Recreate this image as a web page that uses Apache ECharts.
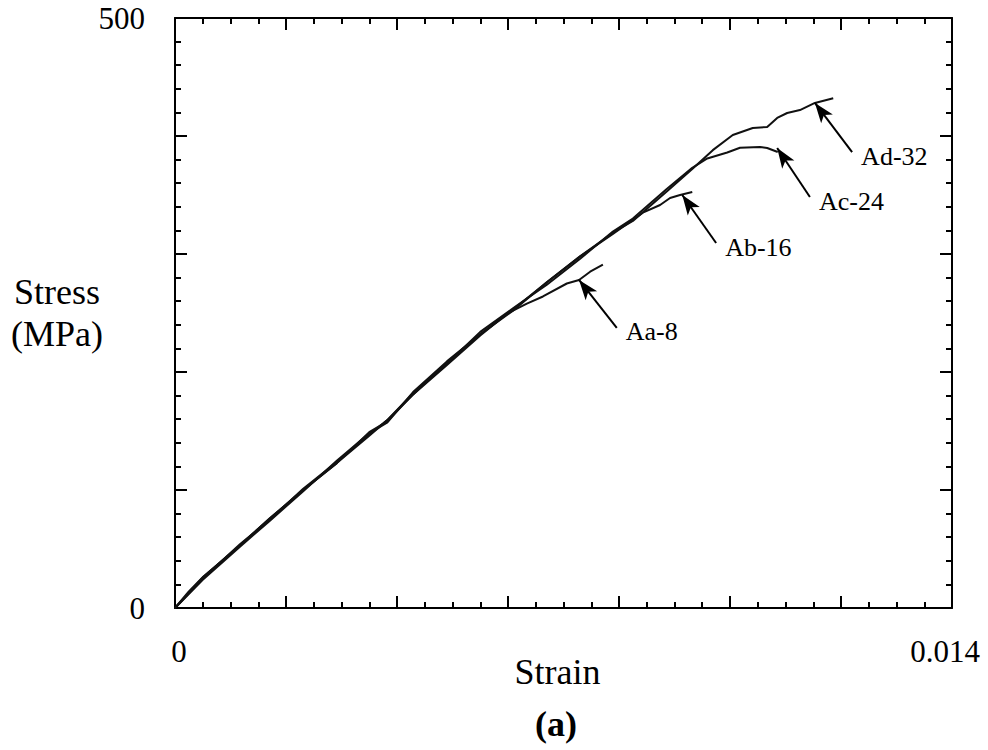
<!DOCTYPE html>
<html>
<head>
<meta charset="utf-8">
<script src="https://cdn.jsdelivr.net/npm/echarts@6/dist/echarts.min.js"></script>
<style>
html,body{margin:0;padding:0;background:#fff;}
#chart{width:988px;height:750px;}
</style>
</head>
<body>
<div id="chart"></div>
<script>
// Strain (raw) and stress (MPa)
const aaStrain = [0, 0.00025, 0.0005, 0.00117, 0.00171, 0.00231, 0.00292, 0.0035, 0.00382, 0.00429, 0.0049, 0.0055, 0.006, 0.00634, 0.00663, 0.00706, 0.00728, 0.00748, 0.00771];
const aaStress = [0, 14, 26, 53, 76, 100, 123, 146, 159, 181, 206, 231, 250, 258, 264, 275, 278, 285, 291];

const abStrain = [0, 0.0005, 0.00117, 0.00171, 0.00231, 0.00292, 0.0035, 0.00382, 0.00429, 0.0049, 0.0055, 0.00609, 0.0067, 0.0073, 0.00789, 0.00843, 0.00874, 0.00892, 0.0091, 0.00932];
const abStress = [0, 24, 52, 74, 99, 125, 148, 157, 183, 209, 232, 252, 276, 298, 317, 335, 341.5, 347.5, 350, 352.5];

const acStrain = [0, 0.0005, 0.00117, 0.00171, 0.00231, 0.00292, 0.0035, 0.00382, 0.00429, 0.0049, 0.0055, 0.00609, 0.0067, 0.0073, 0.00789, 0.00825, 0.00886, 0.00932, 0.00959, 0.00995, 0.01018, 0.01054, 0.01067, 0.01086];
const acStress = [0, 25, 54, 75, 101, 124, 147, 159, 182, 207, 234, 254, 274, 296, 319, 330, 355, 373, 381, 386, 390, 390.7, 389.8, 386.4];

const adStrain = [0, 0.0005, 0.00117, 0.00171, 0.00231, 0.00292, 0.0035, 0.00382, 0.00429, 0.0049, 0.0055, 0.00609, 0.0067, 0.0073, 0.00789, 0.00825, 0.00886, 0.00932, 0.00969, 0.01005, 0.01041, 0.01067, 0.01085, 0.01103, 0.01126, 0.01153, 0.01186];
const adStress = [0, 26, 53, 76, 100, 123, 149, 158, 181, 208, 232, 253, 276, 298, 318, 328, 353, 372, 388, 400.8, 406.8, 407.6, 415.3, 419.5, 422, 428, 432];

const seriesNames = ['Aa-8', 'Ab-16', 'Ac-24', 'Ad-32'];
// arrow tail [strain, stress] and tip [strain, stress]
const arrowTails = [[0.00796, 237.3], [0.00975, 309.3], [0.01144, 348.3], [0.0122, 386.4]];
const arrowTips = [[0.00728, 278], [0.00914, 350], [0.01085, 389.8], [0.01153, 428]];

const xTickLabels = ['0', '0.014'];
const yTickLabels = ['0', '500'];

const FONT = 'Liberation Serif';

function zip(xs, ys) { return xs.map((x, i) => [x, ys[i]]); }
const curves = [zip(aaStrain, aaStress), zip(abStrain, abStress), zip(acStrain, acStress), zip(adStrain, adStress)];

function axisStyle(split) {
  return {
    axisLine: { show: true, onZero: false, lineStyle: { color: '#000', width: 2 } },
    axisTick: { show: true, inside: true, length: 12, lineStyle: { color: '#000', width: 2 } },
    minorTick: { show: true, splitNumber: split, length: 6, lineStyle: { color: '#000', width: 2 } },
    splitLine: { show: false },
    minorSplitLine: { show: false }
  };
}

const chart = echarts.init(document.getElementById('chart'), null, { renderer: 'svg' });

const series = curves.map((data, i) => ({
  name: seriesNames[i],
  type: 'line',
  data: data,
  showSymbol: false,
  symbol: 'none',
  smooth: false,
  lineStyle: { color: '#111', width: 2 },
  silent: true,
  markLine: {
    silent: true,
    symbol: ['none', 'arrow'],
    symbolSize: [11, 20],
    label: { show: false },
    lineStyle: { color: '#000', width: 2, type: 'solid' },
    data: [[{ coord: arrowTails[i] }, { coord: arrowTips[i] }]]
  },
  markPoint: {
    silent: true,
    symbol: 'circle',
    symbolSize: 0.01,
    itemStyle: { color: 'transparent' },
    label: {
      show: true,
      position: 'right',
      distance: 9,
      offset: [0, 4],
      color: '#000',
      fontFamily: FONT,
      fontSize: 26,
      formatter: seriesNames[i]
    },
    data: [{ coord: arrowTails[i] }]
  }
}));

chart.setOption({
  animation: false,
  backgroundColor: '#fff',
  textStyle: { fontFamily: FONT, color: '#000' },
  grid: { left: 175, top: 18, width: 777, height: 590, containLabel: false },
  xAxis: [
    Object.assign({
      type: 'value', min: 0, max: 0.014, interval: 0.002, position: 'bottom',
      name: 'Strain', nameLocation: 'middle', nameGap: 46, nameMoveOverlap: false,
      nameTextStyle: { fontFamily: FONT, fontSize: 36, color: '#000', padding: [0, 12, 0, 0] },
      axisLabel: {
        show: true, margin: 28, color: '#000', fontFamily: FONT, fontSize: 31,
        formatter: function (v) {
          if (Math.abs(v) < 1e-9) return '{z|' + xTickLabels[0] + '}';
          if (Math.abs(v - 0.014) < 1e-9) return '{r|' + xTickLabels[1] + '}';
          return '';
        },
        rich: {
          z: { fontFamily: FONT, fontSize: 31, color: '#000', padding: [0, 0, 0, 8] },
          r: { fontFamily: FONT, fontSize: 31, color: '#000', padding: [0, 14, 0, 0] }
        }
      }
    }, axisStyle(4)),
    Object.assign({
      type: 'value', min: 0, max: 0.014, interval: 0.002, position: 'top',
      axisLabel: { show: false }
    }, axisStyle(4))
  ],
  yAxis: [
    Object.assign({
      type: 'value', min: 0, max: 500, interval: 100, position: 'left',
      name: 'Stress\n(MPa)', nameLocation: 'middle', nameGap: 118, nameRotate: 0, nameMoveOverlap: false,
      nameTextStyle: { fontFamily: FONT, fontSize: 36, color: '#000', align: 'center', verticalAlign: 'middle', lineHeight: 42 },
      axisLabel: {
        show: true, margin: 30, color: '#000', fontFamily: FONT, fontSize: 31,
        padding: [8, 0, 0, 0],
        formatter: function (v) {
          if (v === 0) return yTickLabels[0];
          if (v === 500) return yTickLabels[1];
          return '';
        }
      }
    }, axisStyle(5)),
    Object.assign({
      type: 'value', min: 0, max: 500, interval: 100, position: 'right',
      axisLabel: { show: false }
    }, axisStyle(5))
  ],
  graphic: [{
    type: 'text',
    x: 556, y: 724,
    style: { text: '(a)', font: 'bold 36px "Liberation Serif"', fill: '#000', textAlign: 'center', textVerticalAlign: 'middle' }
  }],
  series: series
});
</script>
</body>
</html>
